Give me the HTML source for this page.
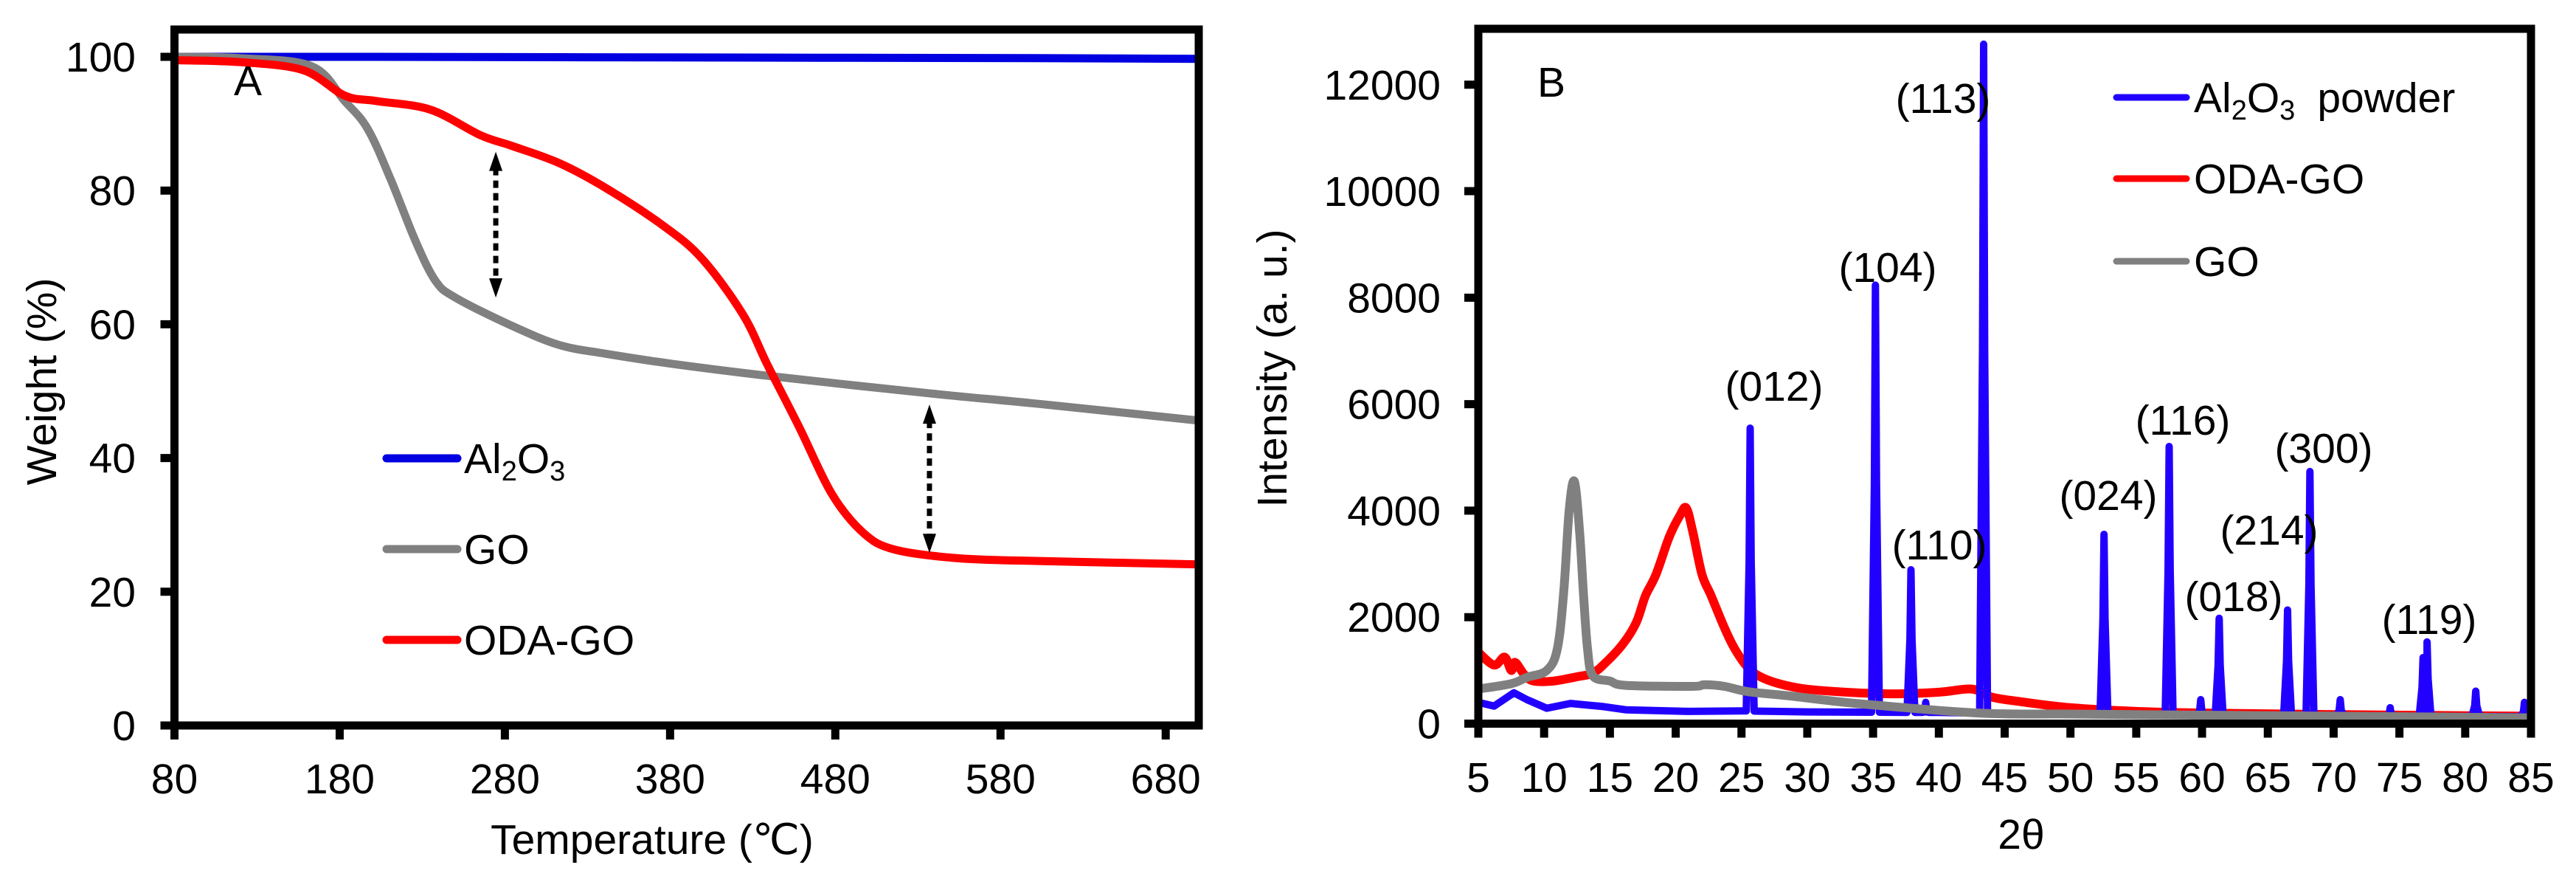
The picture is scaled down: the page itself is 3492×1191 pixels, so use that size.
<!DOCTYPE html>
<html><head><meta charset="utf-8"><style>
html,body{margin:0;padding:0;background:#fff;}
svg{display:block;font-family:"Liberation Sans",Arial,sans-serif;}
</style></head><body>
<svg id="fig" width="3492" height="1191" viewBox="0 0 3492 1191" xmlns="http://www.w3.org/2000/svg">
<g id="chartA"></g>
<g id="chartB"></g>
</svg>
<script>
// ---------- Chart A data (TGA) ----------
const tgaTickX = [80,180,280,380,480,580,680];
const tgaTickY = [0,20,40,60,80,100];
const al2o3T = [80,200,400,600,700];
const al2o3W = [100,100,99.9,99.8,99.7];
const goT = [80,120,163,183,197,211,226,238,250,284,313,341,381,439,536,603,700];
const goW = [100,99.8,98.6,93.4,89.2,81.6,72.4,66.5,64,59.8,56.9,55.6,54.1,52.3,49.7,48.1,45.6];
const odaT = [80,120,158,183,202,235,265,284,313,341,375,399,424,439,458,478,497,516,555,603,700];
const odaW = [99.5,99.2,98,94.2,93.4,92.1,88.3,86.7,84.1,80.4,74.9,69.9,61.5,53.9,44.7,34.6,28.8,26.3,25,24.6,24.1];
const arrowT = [274.5,537];
const arrowTop = [85.8,48];
const arrowBot = [64,25.8];

// ---------- Chart B data (XRD) ----------
const xrdTickX = [5,10,15,20,25,30,35,40,45,50,55,60,65,70,75,80,85];
const xrdTickY = [0,2000,4000,6000,8000,10000,12000];
const blueBaseX = [5,6.2,7.7,8.7,10.2,12,14.5,16.2,21,25,30,40,50,60,70,85];
const blueBaseY = [400,330,580,450,290,380,320,260,230,240,220,210,170,150,140,130];
const peakX = [25.66,35.18,37.88,39,43.4,52.55,57.5,59.9,61.3,66.5,68.2,70.5,74.3,76.8,77.1,80.8,84.5];
const peakY = [5550,8235,2890,400,12760,3555,5205,450,1980,2135,4735,450,300,1240,1535,610,400];
const redX = [5,6.2,7,7.5,7.8,8.5,9.2,10.7,12.5,13.7,14.7,16,17,17.7,18.5,19.5,20.3,20.8,21.3,22,22.7,23.7,24.5,25.5,26.7,28.7,31.2,36.2,40,42.5,44,46,50,55,60,70,80,85];
const redY = [1340,1100,1250,1000,1150,920,800,800,880,950,1150,1500,1900,2400,2800,3500,3900,4050,3600,2800,2400,1800,1400,1050,850,700,620,560,590,650,500,420,300,230,200,170,150,140];
const grayX = [5,7.5,8.7,10.2,11,11.5,11.9,12.3,12.7,13,13.3,13.7,15,16.2,21.2,22.2,23.7,25.5,28.7,33.7,43,50,60,70,85];
const grayY = [650,750,870,1000,1400,2500,4000,4550,3600,2400,1400,900,800,720,700,730,700,600,520,380,200,180,160,140,110];
const hklLabels = ["(012)","(104)","(110)","(113)","(024)","(116)","(018)","(214)","(300)","(119)"];
const hklX = [2405,2559,2629,2634,2858,2959,3028,3076,3150,3293];
const hklY = [523,362,738,133,671,569,808,718,607,839];

const NS = "http://www.w3.org/2000/svg";
function mk(parent, tag, attrs, text){
  const e = document.createElementNS(NS, tag);
  for (const k in attrs) e.setAttribute(k, attrs[k]);
  if (text !== undefined) e.textContent = text;
  parent.appendChild(e);
  return e;
}
function smoothPath(P){
  let d = 'M'+P[0][0].toFixed(1)+','+P[0][1].toFixed(1);
  for(let i=0;i<P.length-1;i++){
    const p0=P[Math.max(0,i-1)], p1=P[i], p2=P[i+1], p3=P[Math.min(P.length-1,i+2)];
    const c1x=p1[0]+(p2[0]-p0[0])/6, c1y=p1[1]+(p2[1]-p0[1])/6;
    const c2x=p2[0]-(p3[0]-p1[0])/6, c2y=p2[1]-(p3[1]-p1[1])/6;
    d+=' C'+c1x.toFixed(1)+','+c1y.toFixed(1)+' '+c2x.toFixed(1)+','+c2y.toFixed(1)+' '+p2[0].toFixed(1)+','+p2[1].toFixed(1);
  }
  return d;
}

// ================= Chart A =================
(function(){
  const g = document.getElementById('chartA');
  const L=236.5, R=1625, T=40, B=983;
  const sx = t => L + (t-80)*(R-L)/620;
  const sy = w => B - w*9.06;
  const P = (xs,ys)=>xs.map((x,i)=>[sx(x),sy(ys[i])]);

  const al = mk(g,'path',{d:smoothPath(P(al2o3T,al2o3W)),fill:'none',stroke:'#0000e0','stroke-width':11,'stroke-linejoin':'round'});
  
  
  const go = mk(g,'path',{d:smoothPath(P(goT,goW)),fill:'none',stroke:'#808080','stroke-width':11,'stroke-linejoin':'round'});
  
  
  const od = mk(g,'path',{d:smoothPath(P(odaT,odaW)),fill:'none',stroke:'#ff0000','stroke-width':11,'stroke-linejoin':'round'});
  
  

  arrowT.forEach((t,i)=>{
    const x=sx(t), y1=sy(arrowTop[i]), y2=sy(arrowBot[i]);
    const a = mk(g,'g',{});
    
    
    mk(a,'line',{x1:x,y1:y1+22,x2:x,y2:y2-22,stroke:'#000','stroke-width':7,'stroke-dasharray':'10 7'});
    mk(a,'polygon',{points:`${x},${y1} ${x-9},${y1+26} ${x+9},${y1+26}`,fill:'#000'});
    mk(a,'polygon',{points:`${x},${y2} ${x-9},${y2-26} ${x+9},${y2-26}`,fill:'#000'});
  });

  const ax = mk(g,'rect',{x:L,y:T,width:R-L,height:B-T,fill:'none',stroke:'#000','stroke-width':11});
  
  
  tgaTickY.forEach(v=>{
    mk(g,'line',{x1:L-19,x2:L,y1:sy(v),y2:sy(v),stroke:'#000','stroke-width':11});
    const t = mk(g,'text',{x:184,y:sy(v)+20,'font-size':57,'text-anchor':'end'},String(v));
    
    
  });
  tgaTickX.forEach(v=>{
    mk(g,'line',{x1:sx(v),x2:sx(v),y1:B,y2:B+19,stroke:'#000','stroke-width':11});
    const t = mk(g,'text',{x:sx(v),y:1075,'font-size':57,'text-anchor':'middle'},String(v));
    
    
  });
  const yt = mk(g,'text',{x:0,y:0,'font-size':57,'text-anchor':'middle',transform:'translate(76,517) rotate(-90)'},'Weight (%)');
  
  
  const xt = mk(g,'text',{x:884,y:1157,'font-size':57,'text-anchor':'middle'},'Temperature (℃)');
  
  
  const pl = mk(g,'text',{x:317,y:129,'font-size':57},'A');
  
  

  const leg = [['#0000e0',621,'Al2O3'],['#808080',744,'GO'],['#ff0000',867,'ODA-GO']];
  leg.forEach(l=>{
    const e = mk(g,'g',{});
    
    
    mk(e,'line',{x1:524,x2:620,y1:l[1],y2:l[1],stroke:l[0],'stroke-width':11,'stroke-linecap':'round'});
    const t = mk(e,'text',{x:629,y:l[1]+20,'font-size':57});
    if(l[2]==='Al2O3'){
      t.innerHTML='Al<tspan font-size="38" dy="10">2</tspan><tspan dy="-10">O</tspan><tspan font-size="38" dy="10">3</tspan>';
    } else t.textContent=l[2];
  });
})();

// ================= Chart B =================
(function(){
  const g = document.getElementById('chartB');
  const L=2004, R=3431, T=39, B=980.5;
  const sx = x => L + (x-5)*(R-L)/80;
  const sy = y => B - y*(B-T)/13050;
  const pts = (xs,ys)=>xs.map((x,i)=>sx(x).toFixed(1)+','+sy(ys[i]).toFixed(1)).join(' ');
  const P = (xs,ys)=>xs.map((x,i)=>[sx(x),sy(ys[i])]);
  function base(x){
    for(let i=0;i<blueBaseX.length-1;i++){
      if(x>=blueBaseX[i]&&x<=blueBaseX[i+1]){
        const f=(x-blueBaseX[i])/(blueBaseX[i+1]-blueBaseX[i]);
        return blueBaseY[i]+f*(blueBaseY[i+1]-blueBaseY[i]);
      }
    }
    return blueBaseY[blueBaseY.length-1];
  }
  let bp = blueBaseX.map((x,i)=>[x,blueBaseY[i]]);
  peakX.forEach((p,i)=>{
    bp.push([p-0.3,base(p-0.3)]);
    bp.push([p-0.08,peakY[i]*0.55]);
    bp.push([p,peakY[i]]);
    bp.push([p+0.08,peakY[i]*0.55]);
    bp.push([p+0.3,base(p+0.3)]);
  });
  bp.sort((a,b)=>a[0]-b[0]);

  const rd = mk(g,'path',{d:smoothPath(P(redX,redY)),fill:'none',stroke:'#ff0000','stroke-width':12,'stroke-linejoin':'round'});
  
  
  const bl = mk(g,'polyline',{points:pts(bp.map(p=>p[0]),bp.map(p=>p[1])),fill:'none',stroke:'#2200ff','stroke-width':10,'stroke-linejoin':'round'});
  
  
  const gr = mk(g,'path',{d:smoothPath(P(grayX,grayY)),fill:'none',stroke:'#808080','stroke-width':12,'stroke-linejoin':'round'});
  
  

  const ax = mk(g,'rect',{x:L,y:T,width:R-L,height:B-T,fill:'none',stroke:'#000','stroke-width':11});
  
  
  xrdTickY.forEach(v=>{
    mk(g,'line',{x1:L-19,x2:L,y1:sy(v),y2:sy(v),stroke:'#000','stroke-width':11});
    const t = mk(g,'text',{x:1953,y:sy(v)+20,'font-size':57,'text-anchor':'end'},String(v));
    
    
  });
  xrdTickX.forEach(v=>{
    mk(g,'line',{x1:sx(v),x2:sx(v),y1:B,y2:B+19,stroke:'#000','stroke-width':11});
    const t = mk(g,'text',{x:sx(v),y:1073,'font-size':57,'text-anchor':'middle'},String(v));
    
    
  });
  hklLabels.forEach((s,i)=>{
    const t = mk(g,'text',{x:hklX[i],y:hklY[i]+20,'font-size':57,'text-anchor':'middle'},s);
    
    
  });
  const yt = mk(g,'text',{x:0,y:0,'font-size':57,'text-anchor':'middle',transform:'translate(1744,499) rotate(-90)'},'Intensity (a. u.)');
  
  
  const xt = mk(g,'text',{x:2740,y:1150,'font-size':57,'text-anchor':'middle'},'2θ');
  
  
  const pl = mk(g,'text',{x:2084,y:131,'font-size':57},'B');
  
  

  const leg = [['#2200ff',132,'al'],['#ff0000',242,'ODA-GO'],['#808080',354,'GO']];
  leg.forEach(l=>{
    const e = mk(g,'g',{});
    
    
    mk(e,'line',{x1:2869,x2:2964,y1:l[1],y2:l[1],stroke:l[0],'stroke-width':9,'stroke-linecap':'round'});
    const t = mk(e,'text',{x:2974,y:l[1]+20,'font-size':57});
    if(l[2]==='al'){
      t.innerHTML='Al<tspan font-size="38" dy="10">2</tspan><tspan dy="-10">O</tspan><tspan font-size="38" dy="10">3</tspan><tspan dy="-10" dx="30">powder</tspan>';
    } else t.textContent=l[2];
  });
})();
</script>
</body></html>
